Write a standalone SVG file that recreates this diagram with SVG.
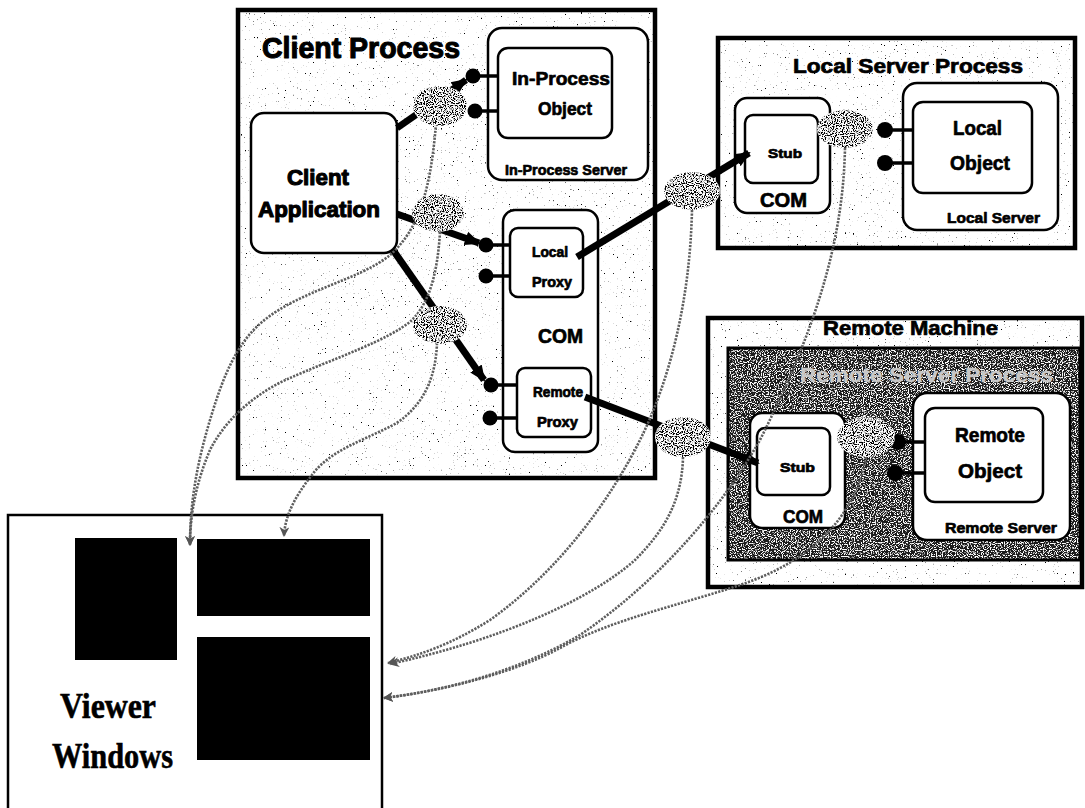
<svg xmlns="http://www.w3.org/2000/svg" width="1085" height="808" viewBox="0 0 1085 808">
<style>
  .t{font-family:"Liberation Sans",Arial,sans-serif;font-weight:bold;fill:#000;stroke:#000;stroke-width:0.7;stroke-linejoin:round}
  .big{stroke-width:1.1}
  .serif{font-family:"Liberation Serif","Times New Roman",serif;font-weight:bold;fill:#000;stroke:#000;stroke-width:0.6}
  .frame{fill:none;stroke:#000;stroke-width:4.5}
  .rbox{fill:#fff;stroke:#000;stroke-width:2.5}
  .lol{stroke:#000;stroke-width:3.5}
  .thick{stroke:#000;stroke-width:7;fill:none;stroke-linecap:butt}
  .curve{fill:none;stroke:#5e5e5e;stroke-width:2.6;stroke-dasharray:2.2 1.3}
</style>
<defs>
  <filter id="speck" x="0" y="0" width="1" height="1">
    <feTurbulence type="fractalNoise" baseFrequency="0.75" numOctaves="1" seed="7" result="t"/>
    <feColorMatrix in="t" type="matrix" values="0 0 0 0 0  0 0 0 0 0  0 0 0 0 0  14 0 0 0 -9.6" result="d"/>
    <feComposite in="d" in2="SourceAlpha" operator="in" result="dc"/>
    <feFlood flood-color="#ffffff" result="w"/>
    <feComposite in="w" in2="SourceAlpha" operator="in" result="wc"/>
    <feMerge><feMergeNode in="wc"/><feMergeNode in="dc"/></feMerge>
  </filter>
  <filter id="grain" x="0" y="0" width="1" height="1">
    <feTurbulence type="fractalNoise" baseFrequency="0.9" numOctaves="1" seed="3" result="t"/>
    <feColorMatrix in="t" type="matrix" values="0 0 0 0 0  0 0 0 0 0  0 0 0 0 0  9 0 0 0 -4.2" result="d"/>
    <feComposite in="d" in2="SourceAlpha" operator="in" result="dc"/>
    <feFlood flood-color="#ffffff" result="w"/>
    <feComposite in="w" in2="SourceAlpha" operator="in" result="wc"/>
    <feMerge><feMergeNode in="wc"/><feMergeNode in="dc"/></feMerge>
  </filter>
  <filter id="dark" x="0" y="0" width="1" height="1">
    <feTurbulence type="fractalNoise" baseFrequency="0.85" numOctaves="1" seed="11" result="t"/>
    <feColorMatrix in="t" type="matrix" values="0 0 0 0 1  0 0 0 0 1  0 0 0 0 1  9 0 0 0 -4.6" result="d"/>
    <feComposite in="d" in2="SourceAlpha" operator="in" result="dc"/>
    <feFlood flood-color="#1a1a1a" result="w"/>
    <feComposite in="w" in2="SourceAlpha" operator="in" result="wc"/>
    <feMerge><feMergeNode in="wc"/><feMergeNode in="dc"/></feMerge>
  </filter>
  <marker id="big" markerUnits="userSpaceOnUse" markerWidth="18" markerHeight="16" refX="14" refY="8" orient="auto">
    <path d="M0,1 L16,8 L0,15 z" fill="#000"/>
  </marker>
  <marker id="small" markerUnits="userSpaceOnUse" markerWidth="12" markerHeight="10" refX="9" refY="5" orient="auto">
    <path d="M0,0 L10,5 L0,10 L3,5 z" fill="#555"/>
  </marker>
</defs>

<rect width="1085" height="808" fill="#fff"/>

<!-- Client Process -->
<g id="client-process">
  <rect x="238" y="10" width="417" height="468" fill="#fff" filter="url(#speck)"/>
  <rect x="238" y="10" width="417" height="468" class="frame"/>
  <text class="t big" x="262" y="58" font-size="30" textLength="198" lengthAdjust="spacingAndGlyphs">Client Process</text>
</g>
<g id="client-application">
  <rect x="251" y="113" width="146" height="140" rx="13" class="rbox"/>
  <text class="t big" x="318" y="185" font-size="22" text-anchor="middle" textLength="62" lengthAdjust="spacingAndGlyphs">Client</text>
  <text class="t big" x="319" y="217" font-size="22" text-anchor="middle" textLength="122" lengthAdjust="spacingAndGlyphs">Application</text>
</g>
<g id="in-process-server">
  <rect x="488" y="28" width="160" height="152" rx="14" class="rbox"/>
  <text class="t" x="505" y="175" font-size="15" textLength="122" lengthAdjust="spacingAndGlyphs">In-Process Server</text>
</g>
<g id="in-process-object">
  <rect x="498" y="48" width="114" height="90" rx="10" class="rbox"/>
  <text class="t" x="512" y="85" font-size="19" textLength="98" lengthAdjust="spacingAndGlyphs">In-Process</text>
  <text class="t" x="538" y="115" font-size="19" textLength="54" lengthAdjust="spacingAndGlyphs">Object</text>
  <line x1="473" y1="76" x2="498" y2="76" class="lol"/>
  <circle cx="473" cy="76" r="7.5"/>
  <line x1="475" y1="111" x2="498" y2="111" class="lol"/>
  <circle cx="475" cy="111" r="7.5"/>
</g>
<g id="com-client">
  <rect x="503" y="210" width="95" height="242" rx="12" class="rbox"/>
  <text class="t" x="538" y="343" font-size="20" textLength="45" lengthAdjust="spacingAndGlyphs">COM</text>
</g>
<g id="local-proxy">
  <rect x="510" y="228" width="73" height="69" rx="8" class="rbox"/>
  <text class="t" x="532" y="257" font-size="14" textLength="36" lengthAdjust="spacingAndGlyphs">Local</text>
  <text class="t" x="532" y="287" font-size="14" textLength="40" lengthAdjust="spacingAndGlyphs">Proxy</text>
  <line x1="486" y1="245" x2="510" y2="245" class="lol"/>
  <circle cx="486" cy="245" r="7.5"/>
  <line x1="486" y1="276" x2="510" y2="276" class="lol"/>
  <circle cx="486" cy="276" r="7.5"/>
</g>
<g id="remote-proxy">
  <rect x="517" y="368" width="74" height="69" rx="8" class="rbox"/>
  <text class="t" x="533" y="397" font-size="14" textLength="50" lengthAdjust="spacingAndGlyphs">Remote</text>
  <text class="t" x="537" y="427" font-size="14" textLength="41" lengthAdjust="spacingAndGlyphs">Proxy</text>
  <line x1="491" y1="385" x2="517" y2="385" class="lol"/>
  <circle cx="491" cy="385" r="7.5"/>
  <line x1="490" y1="418" x2="517" y2="418" class="lol"/>
  <circle cx="490" cy="418" r="7.5"/>
</g>

<!-- Local Server Process -->
<g id="local-server-process">
  <rect x="718" y="38" width="357" height="210" fill="#fff" filter="url(#speck)"/>
  <rect x="718" y="38" width="357" height="210" class="frame"/>
  <text class="t" x="793" y="73" font-size="20" textLength="230" lengthAdjust="spacingAndGlyphs">Local Server Process</text>
</g>
<g id="com-local">
  <rect x="735" y="98" width="95" height="115" rx="12" class="rbox"/>
  <text class="t" x="760" y="207" font-size="20" textLength="47" lengthAdjust="spacingAndGlyphs">COM</text>
</g>
<g id="stub-local">
  <rect x="745" y="115" width="73" height="68" rx="8" class="rbox"/>
  <text class="t" x="768" y="158" font-size="13" textLength="34" lengthAdjust="spacingAndGlyphs">Stub</text>
</g>
<g id="local-server">
  <rect x="903" y="83" width="155" height="147" rx="14" class="rbox"/>
  <text class="t" x="947" y="223" font-size="15" textLength="93" lengthAdjust="spacingAndGlyphs">Local Server</text>
</g>
<g id="local-object">
  <rect x="913" y="102" width="119" height="91" rx="10" class="rbox"/>
  <text class="t" x="953" y="135" font-size="21" textLength="49" lengthAdjust="spacingAndGlyphs">Local</text>
  <text class="t" x="950" y="170" font-size="21" textLength="60" lengthAdjust="spacingAndGlyphs">Object</text>
  <line x1="885" y1="130" x2="913" y2="130" class="lol"/>
  <circle cx="885" cy="130" r="8"/>
  <line x1="885" y1="163" x2="913" y2="163" class="lol"/>
  <circle cx="885" cy="163" r="8"/>
</g>

<!-- Remote Machine -->
<g id="remote-machine">
  <rect x="708" y="318" width="374" height="269" fill="#fff" filter="url(#speck)"/>
  <rect x="708" y="318" width="374" height="269" class="frame"/>
  <text class="t" x="823" y="335" font-size="21" textLength="175" lengthAdjust="spacingAndGlyphs">Remote Machine</text>
</g>
<g id="remote-server-process">
  <rect x="728" y="348" width="352" height="212" fill="#333" filter="url(#dark)"/>
  <rect x="728" y="348" width="352" height="212" fill="none" stroke="#000" stroke-width="3"/>
  <text class="t" x="800" y="382" font-size="21" textLength="253" lengthAdjust="spacingAndGlyphs" style="fill:#c8c8c8;stroke:#c8c8c8;stroke-width:0.4">Remote Server Process</text>
</g>
<g id="com-remote">
  <rect x="750" y="413" width="95" height="115" rx="12" class="rbox"/>
  <text class="t" x="783" y="523" font-size="19" textLength="40" lengthAdjust="spacingAndGlyphs">COM</text>
</g>
<g id="stub-remote">
  <rect x="757" y="428" width="73" height="67" rx="8" class="rbox"/>
  <text class="t" x="780" y="472" font-size="13" textLength="35" lengthAdjust="spacingAndGlyphs">Stub</text>
</g>
<g id="remote-server">
  <rect x="913" y="393" width="157" height="147" rx="14" class="rbox"/>
  <text class="t" x="945" y="533" font-size="15" textLength="112" lengthAdjust="spacingAndGlyphs">Remote Server</text>
</g>
<g id="remote-object">
  <rect x="925" y="408" width="118" height="94" rx="10" class="rbox"/>
  <text class="t" x="955" y="442" font-size="21" textLength="70" lengthAdjust="spacingAndGlyphs">Remote</text>
  <text class="t" x="958" y="478" font-size="21" textLength="64" lengthAdjust="spacingAndGlyphs">Object</text>
  <line x1="898" y1="442" x2="925" y2="442" class="lol"/>
  <circle cx="898" cy="442" r="8"/>
  <line x1="895" y1="473" x2="925" y2="473" class="lol"/>
  <circle cx="895" cy="473" r="8"/>
</g>

<!-- Viewer Windows -->
<g id="viewer-windows">
  <rect x="8" y="515" width="374" height="310" fill="#fff" stroke="#000" stroke-width="2.5"/>
  <rect x="75" y="538" width="102" height="122" fill="#000"/>
  <rect x="197" y="539" width="173" height="77" fill="#000"/>
  <rect x="197" y="637" width="173" height="123" fill="#000"/>
  <text class="serif" x="60" y="718" font-size="36" textLength="96" lengthAdjust="spacingAndGlyphs">Viewer</text>
  <text class="serif" x="52" y="768" font-size="36" textLength="121" lengthAdjust="spacingAndGlyphs">Windows</text>
</g>

<!-- Connectors -->
<g id="connectors">
  <line x1="397" y1="128" x2="466" y2="80" class="thick" marker-end="url(#big)"/>
  <line x1="397" y1="214" x2="479" y2="243" class="thick" marker-end="url(#big)"/>
  <line x1="393" y1="250" x2="484" y2="380" class="thick" marker-end="url(#big)"/>
  <line x1="577" y1="257" x2="749" y2="153" class="thick" marker-end="url(#big)"/>
  <line x1="585" y1="397" x2="758" y2="463" class="thick" marker-end="url(#big)"/>

  <path class="curve" d="M436,124 C432,170 425,225 390,255 C360,280 300,290 262,322 C235,345 222,380 210,420 C198,460 190,500 190,545" marker-end="url(#small)"/>
  <path class="curve" d="M440,232 C438,265 432,300 412,320 C390,340 330,360 290,378 C255,393 225,420 210,450 C198,478 190,510 190,545" marker-end="url(#small)"/>
  <path class="curve" d="M437,343 C436,375 425,405 395,424 C365,440 330,450 312,475 C296,495 285,515 284,536" marker-end="url(#small)"/>
  <path class="curve" d="M692,210 C690,300 670,380 640,440 C610,500 560,570 490,620 C450,645 420,655 388,663" marker-end="url(#small)"/>
  <path class="curve" d="M683,457 C682,500 665,530 635,560 C590,600 500,640 390,664" marker-end="url(#small)"/>
  <path class="curve" d="M845,148 C843,250 810,340 760,440 C720,510 660,580 580,635 C520,670 450,690 384,698" marker-end="url(#small)"/>
  <path class="curve" d="M866,457 C855,515 815,560 740,585 C680,605 610,620 560,648 C520,670 450,690 384,698" marker-end="url(#small)"/>
</g>

<!-- Interception points -->
<g id="hooks">
  <ellipse cx="440" cy="106" rx="27" ry="20" fill="#888" filter="url(#grain)"/>
  <ellipse cx="438" cy="213" rx="26" ry="19" fill="#888" filter="url(#grain)"/>
  <ellipse cx="440" cy="325" rx="27" ry="19" fill="#888" filter="url(#grain)"/>
  <ellipse cx="692" cy="191" rx="28" ry="19" fill="#888" filter="url(#grain)"/>
  <ellipse cx="683" cy="437" rx="28" ry="20" fill="#888" filter="url(#grain)"/>
  <ellipse cx="845" cy="129" rx="28" ry="19" fill="#888" filter="url(#grain)"/>
  <ellipse cx="866" cy="437" rx="29" ry="20" fill="#888" filter="url(#grain)"/>
</g>
</svg>
